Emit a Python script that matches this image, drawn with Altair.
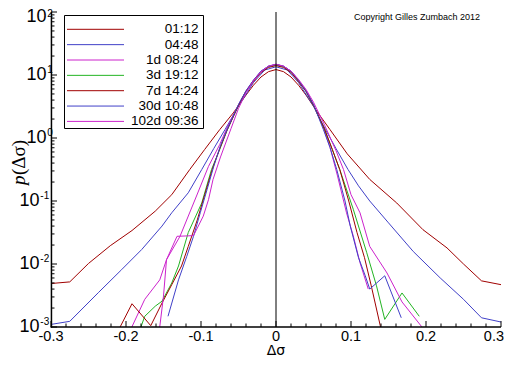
import altair as alt
import pandas as pd

series_names = ["01:12", "04:48", "1d 08:24", "3d 19:12", "7d 14:24", "30d 10:48", "102d 09:36"]
series_colors = ["#a00000", "#4040c8", "#cc22cc", "#23b423", "#a00000", "#4040c8", "#cc22cc"]

x_0112 = [-0.300, -0.275, -0.250, -0.221, -0.192, -0.161, -0.139, -0.115, -0.095, -0.075, -0.057, -0.040, -0.030, -0.020, -0.010, 0.000,
          0.010, 0.020, 0.030, 0.040, 0.055, 0.072, 0.095, 0.125, 0.161, 0.196, 0.228, 0.250, 0.274, 0.300]
p_0112 = [0.0049, 0.0052, 0.0102, 0.0195, 0.034, 0.069, 0.126, 0.316, 0.66, 1.36, 2.5, 4.8, 6.9, 9.3, 11.3, 12.2,
          11.3, 9.3, 6.9, 4.8, 2.6, 1.36, 0.56, 0.22, 0.093, 0.035, 0.018, 0.010, 0.0054, 0.0047]

x_0448 = [-0.300, -0.275, -0.237, -0.206, -0.179, -0.152, -0.139, -0.117, -0.099, -0.083, -0.068, -0.050, -0.030, -0.015, 0.000,
          0.015, 0.030, 0.050, 0.066, 0.080, 0.096, 0.110, 0.125, 0.150, 0.183, 0.219, 0.250, 0.274, 0.300]
p_0448 = [0.0011, 0.00123, 0.0035, 0.0081, 0.017, 0.040, 0.065, 0.135, 0.316, 0.68, 1.36, 3.2, 7.6, 12.0, 13.5,
          12.0, 7.6, 3.2, 1.36, 0.68, 0.316, 0.174, 0.10, 0.045, 0.0158, 0.006, 0.00275, 0.0014, 0.0012]

x_1d = [-0.196, -0.175, -0.155, -0.146, -0.128, -0.106, -0.090, -0.075, -0.065, -0.050, -0.040, -0.030, -0.020, -0.010, 0.000,
        0.010, 0.020, 0.030, 0.040, 0.050, 0.063, 0.072, 0.082, 0.094, 0.103, 0.112, 0.123]
p_1d = [0.0008, 0.00275, 0.0056, 0.0117, 0.0275, 0.12, 0.355, 0.79, 1.48, 3.4, 5.6, 8.3, 11.5, 13.8, 14.8,
        13.8, 11.5, 8.3, 5.6, 3.4, 1.48, 0.71, 0.25, 0.065, 0.028, 0.0105, 0.004]

x_3d = [-0.183, -0.175, -0.161, -0.152, -0.139, -0.130, -0.117, -0.099, -0.086, -0.075, -0.065, -0.050, -0.040, -0.030, -0.020, -0.010, 0.000,
        0.010, 0.020, 0.030, 0.040, 0.050, 0.065, 0.075, 0.085, 0.103, 0.121, 0.134, 0.145, 0.168, 0.191]
p_3d = [0.0008, 0.00148, 0.00214, 0.00257, 0.0050, 0.0093, 0.0316, 0.093, 0.316, 0.66, 1.35, 3.3, 5.5, 8.1, 11.2, 13.5, 14.4,
        13.5, 11.2, 8.1, 5.5, 3.3, 1.35, 0.66, 0.316, 0.074, 0.0151, 0.0045, 0.00132, 0.00347, 0.00148]

x_7d = [-0.212, -0.192, -0.167, -0.152, -0.139, -0.126, -0.117, -0.105, -0.095, -0.085, -0.075, -0.065, -0.050, -0.040, -0.030, -0.020, -0.010, 0.000,
        0.010, 0.020, 0.030, 0.040, 0.050, 0.065, 0.075, 0.085, 0.097, 0.108, 0.118, 0.127, 0.139, 0.141]
p_7d = [0.0008, 0.00234, 0.00105, 0.0024, 0.0047, 0.0093, 0.019, 0.05, 0.126, 0.316, 0.68, 1.35, 3.3, 5.5, 7.9, 11.0, 13.2, 14.1,
        13.2, 11.0, 7.9, 5.5, 3.3, 1.35, 0.66, 0.316, 0.10, 0.0316, 0.0126, 0.0045, 0.00105, 0.0008]

x_30d = [-0.144, -0.130, -0.119, -0.110, -0.101, -0.092, -0.083, -0.074, -0.065, -0.050, -0.040, -0.030, -0.020, -0.010, 0.000,
         0.010, 0.020, 0.030, 0.040, 0.050, 0.063, 0.072, 0.081, 0.092, 0.099, 0.110, 0.119, 0.125, 0.145, 0.167]
p_30d = [0.00148, 0.0056, 0.0132, 0.0275, 0.065, 0.151, 0.355, 0.76, 1.38, 3.4, 5.6, 8.3, 11.5, 13.8, 14.8,
         13.8, 11.5, 8.3, 5.6, 3.4, 1.38, 0.71, 0.316, 0.10, 0.04, 0.0126, 0.0065, 0.004, 0.0065, 0.0014]

x_102d = [-0.156, -0.150, -0.146, -0.132, -0.110, -0.097, -0.090, -0.084, -0.074, -0.060, -0.050, -0.040, -0.030, -0.020, -0.010, 0.000,
          0.010, 0.020, 0.030, 0.040, 0.050, 0.065, 0.080, 0.090, 0.100, 0.112, 0.125, 0.148, 0.168, 0.194, 0.197]
p_102d = [0.0008, 0.0031, 0.0117, 0.0275, 0.0282, 0.0575, 0.105, 0.219, 0.50, 1.41, 2.95, 5.25, 8.1, 11.2, 13.8, 14.8,
          13.8, 11.5, 8.5, 5.9, 3.7, 1.58, 0.63, 0.316, 0.126, 0.065, 0.019, 0.0072, 0.0025, 0.00102, 0.0008]

x_major_ticks = [-0.3, -0.2, -0.1, 0.0, 0.1, 0.2, 0.3]
x_tick_labels = ["-0.3", "-0.2", "-0.1", "0", "0.1", "0.2", "0.3"]
x_minor_ticks = [-0.28, -0.26, -0.24, -0.22, -0.18, -0.16, -0.14, -0.12, -0.08, -0.06, -0.04, -0.02,
                 0.02, 0.04, 0.06, 0.08, 0.12, 0.14, 0.16, 0.18, 0.22, 0.24, 0.26, 0.28]
y_major_ticks = [1e-3, 1e-2, 1e-1, 1.0, 10.0, 100.0]
y_exponents = ["-3", "-2", "-1", "0", "1", "2"]
y_minor_ticks = [k * d for d in [1e-3, 1e-2, 1e-1, 1.0, 10.0] for k in range(2, 10)]

xs_list = [x_0112, x_0448, x_1d, x_3d, x_7d, x_30d, x_102d]
ps_list = [p_0112, p_0448, p_1d, p_3d, p_7d, p_30d, p_102d]
rows = []
for name, xv, pv in zip(series_names, xs_list, ps_list):
    for a, b in zip(xv, pv):
        rows.append({"series": name, "x": a, "p": b})
df = pd.DataFrame(rows)

W, H = 450, 315
xs = alt.Scale(domain=[-0.3, 0.3], nice=False, zero=False)
ys = alt.Scale(type="log", domain=[1e-3, 1e2], nice=False)
one = pd.DataFrame({"a": [0]})
SANS = "Liberation Sans"

lines = alt.Chart(df).mark_line(strokeWidth=1, clip=True).encode(
    x=alt.X("x:Q", scale=xs, axis=None),
    y=alt.Y("p:Q", scale=ys, axis=None),
    color=alt.Color("series:N", scale=alt.Scale(domain=series_names, range=series_colors), legend=None),
    order=alt.Order("x:Q"),
)

zero_line = alt.Chart(pd.DataFrame({"z": [0.0]})).mark_rule(color="black", strokeWidth=1).encode(
    x=alt.X("z:Q", scale=xs, axis=None))
left_axis = alt.Chart(one).mark_rect(fill="black", strokeWidth=0).encode(
    x=alt.value(-0.3), x2=alt.value(1.2), y=alt.value(0), y2=alt.value(H + 0.8))
bottom_axis = alt.Chart(one).mark_rect(fill="black", strokeWidth=0).encode(
    x=alt.value(-0.3), x2=alt.value(W), y=alt.value(H - 0.7), y2=alt.value(H + 0.8))

xt_major = alt.Chart(pd.DataFrame({"t": x_major_ticks})).mark_rule(color="black").encode(
    x=alt.X("t:Q", scale=xs, axis=None), y=alt.value(H), y2=alt.value(H - 6))
xt_minor = alt.Chart(pd.DataFrame({"t": x_minor_ticks})).mark_rule(color="black").encode(
    x=alt.X("t:Q", scale=xs, axis=None), y=alt.value(H), y2=alt.value(H - 3.5))
yt_major = alt.Chart(pd.DataFrame({"v": y_major_ticks})).mark_rule(color="black").encode(
    y=alt.Y("v:Q", scale=ys, axis=None), x=alt.value(0), x2=alt.value(6))
yt_minor = alt.Chart(pd.DataFrame({"v": y_minor_ticks})).mark_rule(color="black").encode(
    y=alt.Y("v:Q", scale=ys, axis=None), x=alt.value(0), x2=alt.value(3.5))

xlab_df = pd.DataFrame({"t": x_major_ticks, "lab": x_tick_labels})
xlab_mid = alt.Chart(xlab_df.iloc[:-1]).mark_text(
    align="center", baseline="middle", font=SANS, fontSize=14.5, color="black").encode(
    x=alt.X("t:Q", scale=xs, axis=None), y=alt.value(H + 9.5), text="lab:N")
xlab_last = alt.Chart(xlab_df.iloc[-1:]).mark_text(
    align="right", baseline="middle", font=SANS, fontSize=14.5, color="black", dx=3).encode(
    x=alt.X("t:Q", scale=xs, axis=None), y=alt.value(H + 9.5), text="lab:N")

ylab = pd.DataFrame({"v": y_major_ticks, "e": y_exponents})
ylab["grp"] = ["neg", "neg", "neg", "pos", "pos", "top"]
ylab_layers = []
for grp, bx, base_dy, exp_dy in [("pos", -4.5, 0, -5.5), ("neg", -11.5, 0, -5.5), ("top", -4.5, 5, 1.5)]:
    sub = ylab[ylab["grp"] == grp]
    ylab_layers.append(alt.Chart(sub).mark_text(align="right", baseline="middle", font=SANS, fontSize=18, color="black", dy=base_dy).encode(
        y=alt.Y("v:Q", scale=ys, axis=None), x=alt.value(bx), text=alt.value("10")))
    ylab_layers.append(alt.Chart(sub).mark_text(align="left", baseline="middle", font=SANS, fontSize=10, color="black", dy=exp_dy).encode(
        y=alt.Y("v:Q", scale=ys, axis=None), x=alt.value(bx + 0.8), text="e:N"))

legend_layers = [alt.Chart(one).mark_rect(fill="white", stroke="black", strokeWidth=1).encode(
    x=alt.value(13.5), x2=alt.value(152.5), y=alt.value(3.5), y2=alt.value(116.5))]
for i, (name, col) in enumerate(zip(series_names, series_colors)):
    yy = 17.3 + 15.35 * i
    legend_layers.append(alt.Chart(one).mark_rule(color=col, strokeWidth=1).encode(
        x=alt.value(16), x2=alt.value(73), y=alt.value(yy)))
    legend_layers.append(alt.Chart(one).mark_text(align="right", baseline="middle", font=SANS, fontSize=13.5, color="black").encode(
        x=alt.value(147.5), y=alt.value(yy), text=alt.value(name)))

copyright_txt = alt.Chart(one).mark_text(align="right", baseline="middle", font=SANS, fontSize=9, color="black").encode(
    x=alt.value(429), y=alt.value(4.5), text=alt.value("Copyright Gilles Zumbach 2012"))

xtitle = alt.Chart(pd.DataFrame({"z": [0.0]})).mark_text(align="center", baseline="middle", font="DejaVu Sans", fontSize=14, color="black").encode(
    x=alt.X("z:Q", scale=xs, axis=None), y=alt.value(339), text=alt.value("Δσ"))
ytitle_p = alt.Chart(one).mark_text(align="left", baseline="middle", font="Liberation Serif", fontStyle="italic", fontSize=19, angle=270, color="black").encode(
    x=alt.value(-32.5), y=alt.value(173), text=alt.value("p"))
ytitle_rest = alt.Chart(one).mark_text(align="left", baseline="middle", font="Liberation Serif", fontSize=19, angle=270, color="black").encode(
    x=alt.value(-32.5), y=alt.value(163), text=alt.value("(Δσ)"))

chart = alt.layer(
    lines, zero_line, left_axis, bottom_axis, xt_major, xt_minor, yt_major, yt_minor, xlab_mid, xlab_last, *ylab_layers, *legend_layers,
    copyright_txt, xtitle, ytitle_p, ytitle_rest
).properties(
    width=W, height=H, autosize=alt.AutoSizeParams(type="none"),
    padding={"left": 43, "top": 4, "right": 3, "bottom": 31},
    background="white",
).configure_view(stroke=None)

chart.save("out.html", embed_options={"renderer": "svg", "actions": False})
